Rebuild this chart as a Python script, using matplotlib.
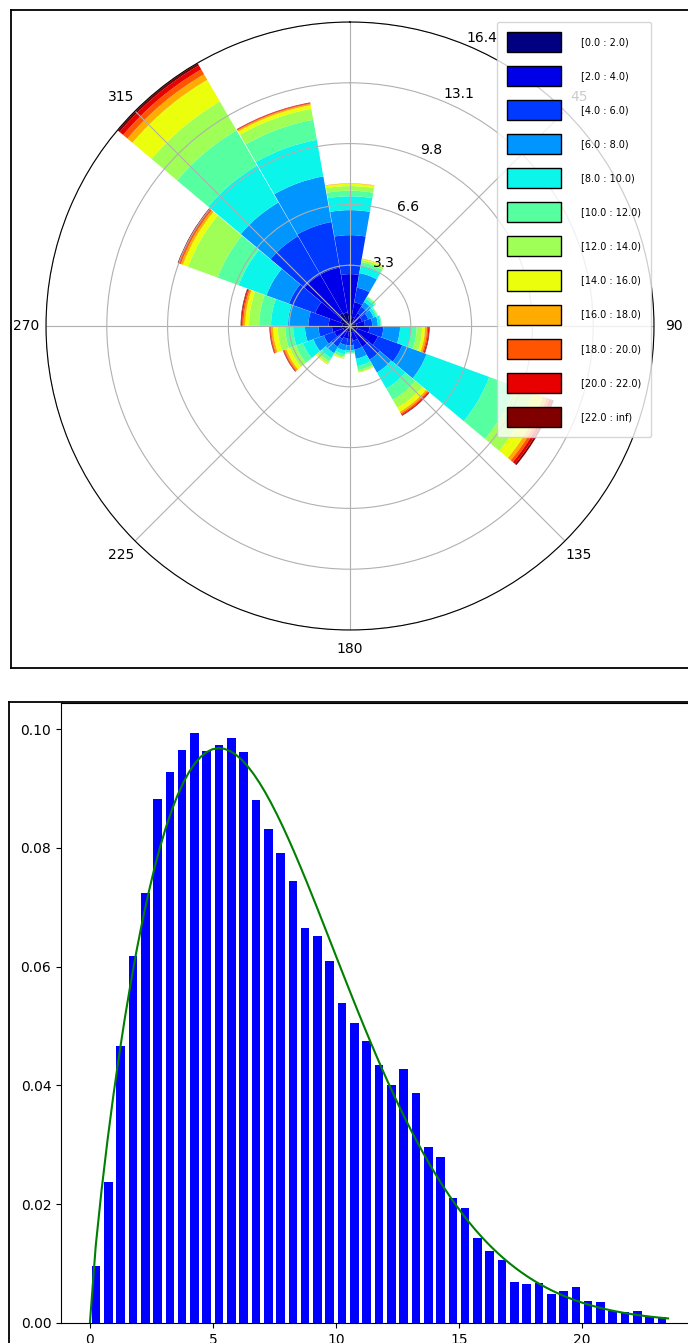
import numpy as np
import matplotlib
matplotlib.use("Agg")
import matplotlib.pyplot as plt
from matplotlib.patches import Patch
from matplotlib.lines import Line2D

# --- wind rose data (frequency in %, one list per speed class) ---
directions = np.arange(0, 360, 20)  # compass degrees, 18 sectors
speed_edges = [0, 2, 4, 6, 8, 10, 12, 14, 16, 18, 20, 22, np.inf]

ws_00_02 = [0.7, 0.5, 0.35, 0.3, 0.35, 0.4, 0.4, 0.4, 0.35, 0.3, 0.3, 0.35, 0.4, 0.45, 0.4, 0.55, 0.8, 0.75]
ws_02_04 = [2.1, 0.8, 0.45, 0.4, 0.45, 0.65, 1.2, 0.9, 0.45, 0.4, 0.4, 0.45, 0.5, 0.52, 0.75, 1.45, 2.4, 2.45]
ws_04_06 = [2.1, 0.8, 0.4, 0.35, 0.4, 0.75, 1.4, 0.8, 0.5, 0.35, 0.35, 0.5, 0.6, 0.73, 1.1, 1.5, 2.4, 2.5]
ws_06_08 = [1.35, 0.8, 0.3, 0.3, 0.3, 0.9, 1.4, 0.8, 0.5, 0.25, 0.3, 0.4, 0.6, 0.73, 1.1, 1.3, 2.1, 2.5]
ws_08_10 = [0.75, 0.4, 0.2, 0.15, 0.15, 0.6, 3.6, 1.0, 0.4, 0.12, 0.2, 0.3, 0.6, 0.64, 0.91, 1.6, 2.3, 2.0]
ws_10_12 = [0.3, 0.2, 0.1, 0.08, 0.05, 0.3, 1.5, 0.7, 0.22, 0.06, 0.13, 0.2, 0.4, 0.43, 0.64, 1.2, 2.2, 1.1]
ws_12_14 = [0.25, 0.12, 0.05, 0.02, 0.0, 0.3, 1.0, 0.5, 0.1, 0.02, 0.07, 0.13, 0.35, 0.4, 0.55, 1.7, 1.8, 0.6]
ws_14_16 = [0.13, 0.06, 0.0, 0.0, 0.0, 0.15, 0.6, 0.25, 0.03, 0.0, 0.04, 0.05, 0.2, 0.25, 0.2, 0.3, 1.35, 0.2]
ws_16_18 = [0.01, 0.02, 0.0, 0.0, 0.0, 0.1, 0.2, 0.1, 0.0, 0.0, 0.01, 0.02, 0.1, 0.1, 0.1, 0.12, 0.35, 0.07]
ws_18_20 = [0.01, 0.0, 0.0, 0.0, 0.0, 0.07, 0.15, 0.07, 0.0, 0.0, 0.0, 0.0, 0.05, 0.05, 0.07, 0.08, 0.3, 0.04]
ws_20_22 = [0.0, 0.0, 0.0, 0.0, 0.0, 0.05, 0.15, 0.05, 0.0, 0.0, 0.0, 0.0, 0.03, 0.03, 0.05, 0.06, 0.25, 0.03]
ws_22_inf = [0.0, 0.0, 0.0, 0.0, 0.0, 0.03, 0.1, 0.03, 0.0, 0.0, 0.0, 0.0, 0.02, 0.02, 0.03, 0.04, 0.15, 0.01]

theta_labels = ["", "45", "90", "135", "180", "225", "270", "315"]

# --- speed histogram (density) and weibull fit ---
hist_edges = np.arange(0, 24, 0.5)
hist_density = [0.0096, 0.0238, 0.0467, 0.0618, 0.0724, 0.0883, 0.0927, 0.0965, 0.0994, 0.0963,
                0.0973, 0.0985, 0.0961, 0.0881, 0.0832, 0.0792, 0.0745, 0.0665, 0.0652, 0.0609,
                0.0538, 0.0505, 0.0475, 0.0435, 0.0400, 0.0428, 0.0387, 0.0296, 0.0279, 0.0210,
                0.0194, 0.0143, 0.0122, 0.0106, 0.0069, 0.0065, 0.0067, 0.0048, 0.0054, 0.0061,
                0.0037, 0.0036, 0.0021, 0.0019, 0.0020, 0.0010, 0.0010]
weib_k = 1.79
weib_scale = 8.29

W, H = 688, 1343
fig = plt.figure(figsize=(W / 100, H / 100), dpi=100)

# ---------------- wind rose ----------------
ax = fig.add_axes([46 / W, 1 - 630 / H, 608 / W, 608 / H], projection="polar")
ax.set_theta_zero_location("N")
ax.set_theta_direction(-1)

table = [ws_00_02, ws_02_04, ws_04_06, ws_06_08, ws_08_10, ws_10_12,
         ws_12_14, ws_14_16, ws_16_18, ws_18_20, ws_20_22, ws_22_inf]
colors = plt.cm.jet(np.linspace(0, 1, len(table)))
theta = np.deg2rad(directions)
width = np.deg2rad(360 / len(directions)) * 0.99

bottom = np.zeros(len(directions))
handles = []
for i, vals in enumerate(table):
    vals = np.array(vals)
    ax.bar(theta, vals, width=width, bottom=bottom, color=colors[i], linewidth=0)
    bottom += vals
    lo, hi = speed_edges[i], speed_edges[i + 1]
    lab = "[%.1f : %s)" % (lo, "inf" if np.isinf(hi) else "%.1f" % hi)
    handles.append(Patch(facecolor=colors[i], edgecolor="black", linewidth=1, label=lab))

rmax = bottom.max()
ax.set_ylim(0, rmax)
radii = np.linspace(0, rmax, 6)[1:]
ax.set_rgrids(radii, labels=["%.1f" % r for r in radii], angle=22.5)
ax.set_thetagrids(np.arange(0, 360, 45), labels=theta_labels)

ax.legend(handles=handles, loc="upper left", bbox_to_anchor=(497 / W, 1 - 22 / H),
          bbox_transform=fig.transFigure, borderaxespad=0, fontsize=7,
          handlelength=5.6, handleheight=2.79, labelspacing=1.45, handletextpad=2.06,
          borderpad=1.0)

# ---------------- histogram ----------------
ax2 = fig.add_axes([61 / W, 20 / H, 636 / W, 620 / H])
centers = (hist_edges[:-1] + hist_edges[1:]) / 2
bw = 0.7 * (hist_edges[1] - hist_edges[0])
ax2.bar(centers, hist_density, width=bw, color="b", align="center")
x = np.linspace(0, hist_edges[-1], 100)
pdf = (weib_k / weib_scale) * (x / weib_scale) ** (weib_k - 1) * np.exp(-(x / weib_scale) ** weib_k)
ax2.plot(x, pdf, color="g")
ax2.set_xlim(-1.175, 24.675)
ax2.set_ylim(0, 0.1044)

# panel frames of the screenshot
def fline(x0, y0, x1, y1):
    fig.add_artist(Line2D([x0 / W, x1 / W], [1 - y0 / H, 1 - y1 / H],
                          transform=fig.transFigure, color="black", lw=1.3))

fline(11, 10, W, 10)
fline(11, 10, 11, 668)
fline(11, 668, W, 668)
fline(9, 702, W, 702)
fline(9, 702, 9, H)

fig.savefig("out.png", dpi=100)
